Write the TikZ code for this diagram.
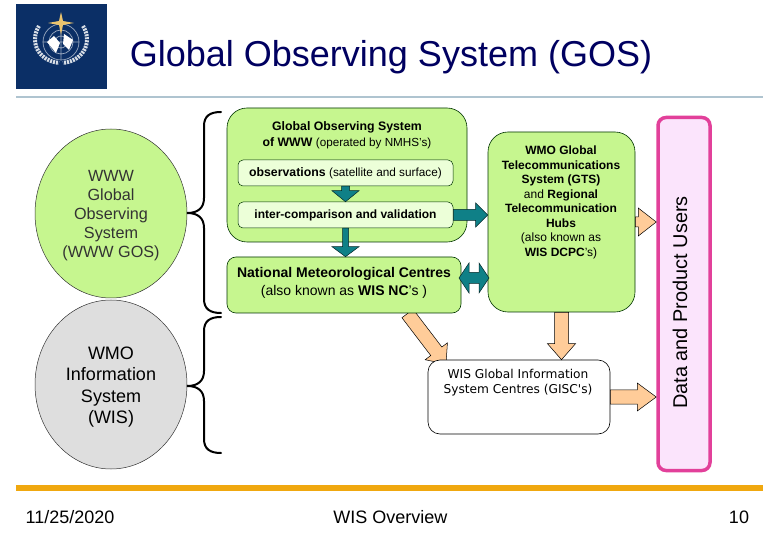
\documentclass[tikz,border=0pt]{standalone}
\usepackage{fontspec}
\setmainfont{Liberation Sans}
\newfontfamily\giscfont{DejaVu Sans}
\usepackage{tikz}
\usetikzlibrary{calc,shapes.geometric,backgrounds}

\definecolor{wmonavy}{HTML}{0B2F66}
\definecolor{titleblue}{HTML}{000060}
\definecolor{leaf}{HTML}{C6F68F}
\definecolor{paleleaf}{HTML}{ECFFD8}
\definecolor{teal}{HTML}{0F8087}
\definecolor{peach}{HTML}{FFCC99}
\definecolor{pink}{HTML}{E2409A}
\definecolor{palepink}{HTML}{FBE4FC}
\definecolor{rulegrey}{HTML}{AFC4D0}
\definecolor{ruleamber}{HTML}{F0A80F}
\definecolor{stargold}{HTML}{EBC46E}
\definecolor{wreath}{HTML}{D8DEE6}

\newcommand{\fsize}[2]{\fontsize{#1}{#2}\selectfont}

% from, to, half shaft, half head, head length
\newcommand{\blockarrow}[6][]{%
  \coordinate (hb) at ($(#3)!#6!(#2)$);
  \draw [#1] ($(#2)!#4!90:(#3)$) -- ($(hb)!#4!90:(#3)$) -- ($(hb)!#5!90:(#3)$) -- (#3)
    -- ($(hb)!#5!-90:(#3)$) -- ($(hb)!#4!-90:(#3)$) -- ($(#2)!#4!-90:(#3)$) -- cycle;
}
\newcommand{\dblockarrow}[6][]{%
  \coordinate (hb) at ($(#3)!#6!(#2)$);
  \coordinate (ha) at ($(#2)!#6!(#3)$);
  \draw [#1] (#2) -- ($(ha)!#5!-90:(#2)$) -- ($(ha)!#4!-90:(#2)$) -- ($(hb)!#4!90:(#3)$)
    -- ($(hb)!#5!90:(#3)$) -- (#3) -- ($(hb)!#5!-90:(#3)$) -- ($(hb)!#4!-90:(#3)$)
    -- ($(ha)!#4!90:(#2)$) -- ($(ha)!#5!90:(#2)$) -- cycle;
}

\tikzset{
  roundel/.style={ellipse, draw=black!80, line width=0.5pt, inner sep=0pt,
                  minimum width=152pt, minimum height=169pt},
  greenbox/.style={draw=black!80!green, line width=0.6pt, fill=leaf, inner sep=0pt},
  innerbox/.style={draw=black!80!green, line width=0.5pt, fill=paleleaf, rounded corners=5pt,
                   minimum width=215pt, minimum height=26pt, inner sep=0pt},
  tealarrow/.style={draw=black!70!teal, line width=0.5pt, fill=teal},
  peacharrow/.style={draw=black, line width=0.5pt, fill=peach},
  curly/.style={line width=2pt, line cap=round},
  boxtext/.style={align=center, inner sep=0pt},
  footer/.style={inner sep=0pt, font=\fsize{18}{20}}
}

\begin{document}
\begin{tikzpicture}[x=1pt, y=-1pt]
        \useasboundingbox (0,0) rectangle (780,540);

        % logo
        \fill [wmonavy] (16,4) rectangle (107,89);
        \draw [wreath!70!wmonavy, line width=0.7pt] (61,42) circle (6) (61,42) circle (12) (61,42) circle (18)
              (43,42) -- (79,42) (61,24) -- (61,60);
        \fill [white] (47,42) -- (54,36) -- (60,43) -- (56,53) -- cycle;
        \fill [white] (64,34) -- (73,40) -- (69,50) -- (63,44) -- cycle;
        \draw [wreath, line width=4pt, dash pattern=on 2pt off 1pt]
              (39,26) .. controls (30,40) and (36,60) .. (59,63);
        \draw [wreath, line width=4pt, dash pattern=on 2pt off 1pt]
              (83,26) .. controls (92,40) and (86,60) .. (63,63);
        \fill [stargold] (61,12) -- (63,21) -- (74,23) -- (63,25) -- (61,35)
              -- (59,25) -- (48,23) -- (59,21) -- cycle;

        % title and rules
        \node [inner sep=0pt, text=titleblue, font=\fsize{36}{40}] (title) at (391,57)
              {Global Observing System (GOS)};
        \fill [rulegrey] (16,96.5) rectangle (763,98);
        \fill [ruleamber] (16,485) rectangle (763,491);

        % left side
        \node [roundel, fill=leaf] (www) at (111,213.5) {};
        \node [boxtext, text=black!80, font=\fsize{16.2}{19}] (wwwtext) at (111,215.5)
              {WWW\\Global\\Observing\\System\\(WWW GOS)};
        \node [roundel, fill=black!13] (wis) at (111,384.5) {};
        \node [boxtext, font=\fsize{18}{21.6}] (wistext) at (111,387)
              {WMO\\Information\\System\\(WIS)};
        \draw [curly] (221,112) .. controls (210,112) and (204,116) .. (204,126) -- (204,198)
              .. controls (204,208) and (198,213) .. (187,213)
              .. controls (198,213) and (204,218) .. (204,228) -- (204,299)
              .. controls (204,309) and (210,313) .. (221,313);
        \draw [curly] (221,317) .. controls (210,317) and (204,321) .. (204,331) -- (204,371)
              .. controls (204,381) and (198,386) .. (187,386)
              .. controls (198,386) and (204,391) .. (204,401) -- (204,439)
              .. controls (204,449) and (210,453) .. (221,453);

        % green boxes
        \node [greenbox, rounded corners=20pt, minimum width=240pt, minimum height=134pt] (gos) at (347,175) {};
        \node [boxtext, font=\fsize{12.3}{16}] (gostext) at (347,135)
              {\textbf{Global Observing System}\\\textbf{of WWW} {\fsize{11.7}{16}(operated by NMHS's)}};
        \node [innerbox, font=\fsize{12.3}{13}] (obs) at (345.5,173)
              {\textbf{observations} {\fsize{11.8}{13}(satellite and surface)}};
        \node [innerbox, font=\bfseries\fsize{12}{13}] (inter) at (345.5,215)
              {inter-comparison and validation};
        \node [greenbox, rounded corners=9pt, minimum width=234pt, minimum height=56pt] (nc) at (344,285) {};
        \node [boxtext, font=\fsize{14}{18}] (nctext) at (344,283)
              {\textbf{National Meteorological Centres}\\(also known as \textbf{WIS NC}'s )};
        \node [greenbox, rounded corners=20pt, minimum width=147pt, minimum height=180pt] (gts) at (561.5,222) {};
        \node [boxtext, font=\fsize{12}{14.5}] (gtstext) at (561,202.5)
              {\textbf{WMO Global}\\\textbf{Telecommunications}\\\textbf{System (GTS)}\\and \textbf{Regional}\\
               \textbf{Telecommunication}\\\textbf{Hubs}\\(also known as\\\textbf{WIS DCPC}'s)};

        % users and gisc
        \node [draw=pink, line width=3.5pt, fill=palepink, rounded corners=8pt, minimum width=52pt,
               minimum height=353pt, inner sep=0pt] (users) at (684,294) {};
        \node [rotate=90, inner sep=0pt, font=\fsize{19.9}{20}] (userstext) at (680,302.5)
              {Data and Product Users};
        \node [draw=black, line width=0.6pt, fill=white, rounded corners=12pt, minimum width=182pt,
               minimum height=74pt, inner sep=0pt] (gisc) at (519,397) {};
        \node [boxtext, font=\giscfont\fsize{12.2}{15}] (gisctext) at (518,383)
              {WIS Global Information\\System Centres (GISC's)};

        % teal arrows
        \blockarrow[tealarrow]{obs.south}{inter.north}{4pt}{13.5pt}{11pt}
        \blockarrow[tealarrow]{inter.south}{inter.south |- nc.north}{3pt}{13.5pt}{10pt}
        \blockarrow[tealarrow]{inter.east}{inter.east -| gts.west}{5.5pt}{12pt}{12pt}
        \coordinate (ncport)  at (459,278);
        \coordinate (gtsport) at (489,278);
        \dblockarrow[tealarrow]{ncport}{gtsport}{5.5pt}{15pt}{10pt}

        % peach arrows
        \coordinate (gtsout)  at (gts.east |- 0,222);
        \coordinate (usersin) at (users.west |- 0,222);
        \blockarrow[peacharrow]{gtsout}{usersin}{5pt}{14pt}{18pt}
        \blockarrow[peacharrow]{gts.south}{gts.south |- gisc.north}{7pt}{14pt}{16pt}
        \blockarrow[peacharrow]{gisc.east}{gisc.east -| users.west}{7pt}{14pt}{19pt}
        \coordinate (ncout)  at (407.5,313.5);
        \coordinate (giscin) at (446,364);
        \begin{scope}[on background layer]
          \blockarrow[peacharrow]{ncout}{giscin}{7pt}{14pt}{16pt}
        \end{scope}

        % footer
        \node [footer] (date) at (70,517.5) {11/25/2020};
        \node [footer] (name) at (390.5,517.5) {WIS Overview};
        \node [footer] (page) at (739,517.5) {10};
\end{tikzpicture}
\end{document}
